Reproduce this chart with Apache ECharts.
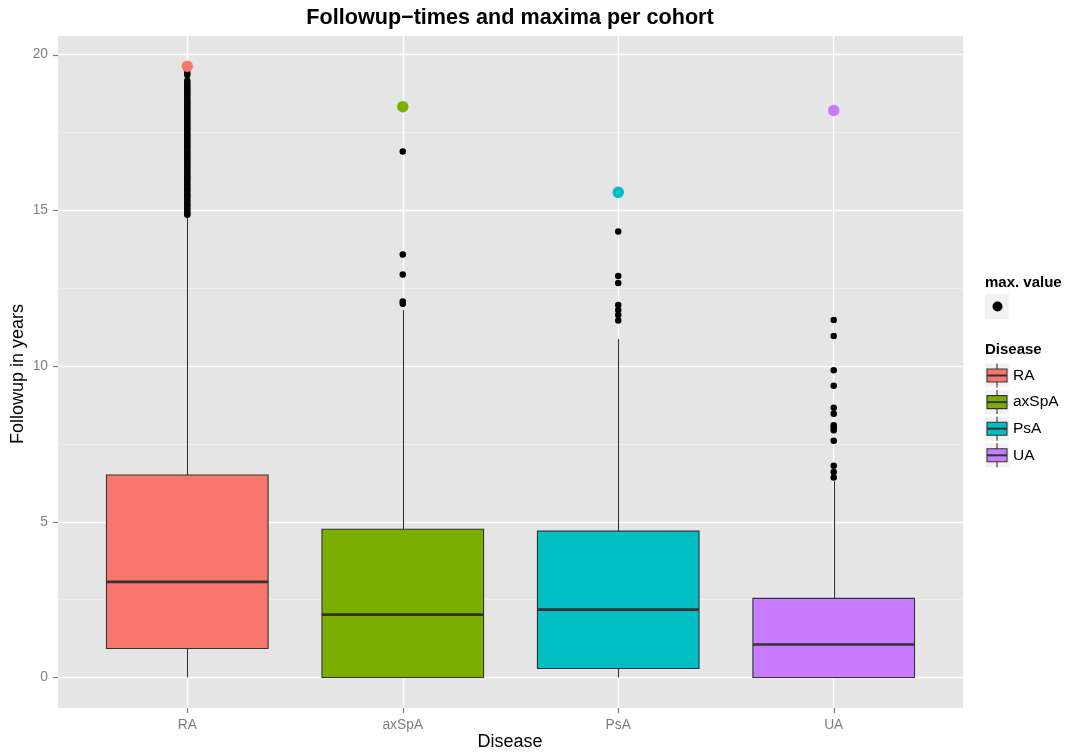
<!DOCTYPE html>
<html>
<head>
<meta charset="utf-8">
<script src="https://cdn.jsdelivr.net/npm/echarts@6/dist/echarts.min.js"></script>
<style>html,body{margin:0;padding:0;background:#fff;}#c{width:1067px;height:756px;}</style>
</head>
<body>
<div id="c"></div>
<script>
const categories = ['RA', 'axSpA', 'PsA', 'UA'];
const colors = ['#F8766D', '#7CAE00', '#00BFC4', '#C77CFF'];
const lowerWhisker = [0, 0, 0, 0];
const q1 = [0.93, 0, 0.29, 0];
const median = [3.07, 2.02, 2.18, 1.06];
const q3 = [6.50, 4.76, 4.70, 2.54];
const upperWhisker = [14.85, 11.80, 10.87, 6.30];
const maxima = [19.63, 18.33, 15.58, 18.21];
const outliersRA = [14.86, 14.9, 14.95, 15.02, 15.08, 15.15, 15.2, 15.27, 15.33, 15.4, 15.46, 15.52, 15.6, 15.66, 15.72, 15.79, 15.85, 15.91, 15.98, 16.04, 16.1, 16.17, 16.23, 16.3, 16.36, 16.42, 16.49, 16.55, 16.62, 16.68, 16.74, 16.8, 16.87, 16.93, 17.0, 17.06, 17.12, 17.19, 17.25, 17.31, 17.38, 17.44, 17.5, 17.57, 17.63, 17.7, 17.76, 17.82, 17.89, 17.95, 18.01, 18.08, 18.14, 18.2, 18.27, 18.33, 18.4, 18.46, 18.52, 18.58, 18.65, 18.71, 18.78, 18.84, 18.9, 18.97, 19.03, 19.1, 19.16, 19.35, 19.42];
const outliersAxSpA = [12.0, 12.07, 12.94, 13.58, 16.89];
const outliersPsA = [11.46, 11.64, 11.8, 11.96, 12.67, 12.89, 14.32];
const outliersUA = [6.42, 6.6, 6.8, 7.6, 7.94, 8.03, 8.1, 8.47, 8.66, 9.37, 9.87, 10.97, 11.48];
const yTicks = [0, 5, 10, 15, 20];
const yMinor = [2.5, 7.5, 12.5, 17.5];

const X_MIN = 0.4, X_MAX = 4.6, Y_MIN = -0.98, Y_MAX = 20.6;
const outlierLists = [outliersRA, outliersAxSpA, outliersPsA, outliersUA];
const boxData = categories.map((c, i) => [i + 1, lowerWhisker[i], q1[i], median[i], q3[i], upperWhisker[i]]);
const outlierData = [];
outlierLists.forEach((list, i) => list.forEach(v => outlierData.push([i + 1, v])));
const maxData = maxima.map((v, i) => ({ value: [i + 1, v], itemStyle: { color: colors[i], opacity: 1 } }));

const FONT = '"Liberation Sans", Arial, sans-serif';
const chart = echarts.init(document.getElementById('c'), null, { renderer: 'canvas' });

function renderBox(params, api) {
  const x = api.value(0), lo = api.value(1), a = api.value(2), m = api.value(3), b = api.value(4), hi = api.value(5);
  const half = 0.375;
  const pTL = api.coord([x - half, b]);
  const pBR = api.coord([x + half, a]);
  const cx = Math.round(api.coord([x, 0])[0]) + 0.5;
  const yLo = api.coord([x, lo])[1], yHi = api.coord([x, hi])[1];
  const yM = api.coord([x, m])[1];
  const stroke = '#333333';
  return {
    type: 'group',
    children: [
      { type: 'line', shape: { x1: cx, y1: yHi, x2: cx, y2: pTL[1] }, style: { stroke: stroke, lineWidth: 1.1 } },
      { type: 'line', shape: { x1: cx, y1: pBR[1], x2: cx, y2: yLo }, style: { stroke: stroke, lineWidth: 1.1 } },
      { type: 'rect', shape: { x: pTL[0], y: pTL[1], width: pBR[0] - pTL[0], height: pBR[1] - pTL[1] }, style: { fill: colors[params.dataIndex], stroke: stroke, lineWidth: 1.1 } },
      { type: 'line', shape: { x1: pTL[0], y1: yM, x2: pBR[0], y2: yM }, style: { stroke: stroke, lineWidth: 2.6 } }
    ]
  };
}

// legend graphics
const legendX = 985;
const legendItems = [];
legendItems.push({ type: 'text', x: legendX, y: 283, style: { text: 'max. value', font: 'bold 15px ' + FONT, fill: '#000', verticalAlign: 'middle' } });
legendItems.push({ type: 'rect', shape: { x: legendX, y: 294, width: 24, height: 25 }, style: { fill: '#F2F2F2' } });
legendItems.push({ type: 'circle', shape: { cx: legendX + 12.5, cy: 306.5, r: 5 }, style: { fill: '#000' } });
legendItems.push({ type: 'text', x: legendX, y: 350, style: { text: 'Disease', font: 'bold 15px ' + FONT, fill: '#000', verticalAlign: 'middle' } });
categories.forEach((c, i) => {
  const cy = 375.5 + i * 26.6;
  legendItems.push({ type: 'rect', shape: { x: legendX, y: cy - 12, width: 24, height: 24 }, style: { fill: '#F2F2F2' } });
  legendItems.push({ type: 'line', shape: { x1: legendX + 12, y1: cy - 12, x2: legendX + 12, y2: cy + 12 }, style: { stroke: '#333', lineWidth: 1.1 } });
  legendItems.push({ type: 'rect', shape: { x: legendX + 2, y: cy - 6.5, width: 20, height: 13 }, style: { fill: colors[i], stroke: '#333', lineWidth: 1.1 } });
  legendItems.push({ type: 'line', shape: { x1: legendX + 2, y1: cy, x2: legendX + 22, y2: cy }, style: { stroke: '#333', lineWidth: 2 } });
  legendItems.push({ type: 'text', x: legendX + 28, y: cy, style: { text: c, font: '15.5px ' + FONT, fill: '#000', verticalAlign: 'middle' } });
});

const baseGraphics = [
  { type: 'text', x: 510, y: 18, style: { text: 'Followup\u2212times and maxima per cohort', font: 'bold 21.6px ' + FONT, fill: '#000', align: 'center', verticalAlign: 'middle' } },
  { type: 'text', x: 510, y: 742, style: { text: 'Disease', font: '18px ' + FONT, fill: '#000', align: 'center', verticalAlign: 'middle' } },
  { type: 'text', x: 18, y: 374, rotation: Math.PI / 2, style: { text: 'Followup in years', font: '18px ' + FONT, fill: '#000', align: 'center', verticalAlign: 'middle' } },
  ...legendItems
];

const option = {
  animation: false,
  backgroundColor: '#ffffff',
  textStyle: { fontFamily: FONT },
  grid: { left: 58, right: 104, top: 36, bottom: 48, show: true, backgroundColor: '#E5E5E5', borderWidth: 0, containLabel: false },
  xAxis: {
    type: 'value', min: X_MIN, max: X_MAX, position: 'bottom',
    axisLine: { show: false, onZero: false },
    splitLine: { show: false },
    axisTick: { show: false },
    axisLabel: { customValues: [1, 2, 3, 4], formatter: v => categories[Math.round(v) - 1] || '', color: '#7F7F7F', fontSize: 13.8, fontFamily: FONT, margin: 10 }
  },
  yAxis: {
    type: 'value', min: Y_MIN, max: Y_MAX, position: 'left',
    axisLine: { show: false, onZero: false },
    splitLine: { show: false },
    axisTick: { show: false },
    axisLabel: { customValues: yTicks, color: '#7F7F7F', fontSize: 13.8, fontFamily: FONT, margin: 10 }
  },
  series: [
    {
      type: 'line', data: [], silent: true, z: 0,
      markLine: {
        silent: true, symbol: 'none', animation: false, label: { show: false }, z: 0,
        data: [
          ...yMinor.map(v => ({ yAxis: v, lineStyle: { color: '#F2F2F2', width: 0.7, type: 'solid' } })),
          ...yTicks.map(v => ({ yAxis: v, lineStyle: { color: '#FFFFFF', width: 1.4, type: 'solid' } })),
          ...categories.map((c, i) => ({ xAxis: i + 1, lineStyle: { color: '#FFFFFF', width: 1.4, type: 'solid' } }))
        ]
      }
    },
    { type: 'custom', renderItem: renderBox, data: boxData, z: 2 },
    { type: 'scatter', data: outlierData, symbolSize: 6.5, itemStyle: { color: '#000', opacity: 1 }, z: 3 },
    { type: 'scatter', data: maxData, symbolSize: 11.5, itemStyle: { opacity: 1 }, z: 4 }
  ]
};
chart.setOption(option);

// axis tick marks, positioned through the chart's own scales
const tickGraphics = [];
categories.forEach((c, i) => {
  const p = chart.convertToPixel({ gridIndex: 0 }, [i + 1, Y_MIN]);
  const x = Math.round(p[0]) + 0.5;
  tickGraphics.push({ type: 'line', shape: { x1: x, y1: p[1], x2: x, y2: p[1] + 5 }, style: { stroke: '#7A7A7A', lineWidth: 1.2 } });
});
yTicks.forEach(v => {
  const p = chart.convertToPixel({ gridIndex: 0 }, [X_MIN, v]);
  const y = Math.round(p[1]) + 0.5;
  tickGraphics.push({ type: 'line', shape: { x1: p[0] - 5, y1: y, x2: p[0], y2: y }, style: { stroke: '#7A7A7A', lineWidth: 1.2 } });
});
chart.setOption({ graphic: baseGraphics.concat(tickGraphics) });
</script>
</body>
</html>
